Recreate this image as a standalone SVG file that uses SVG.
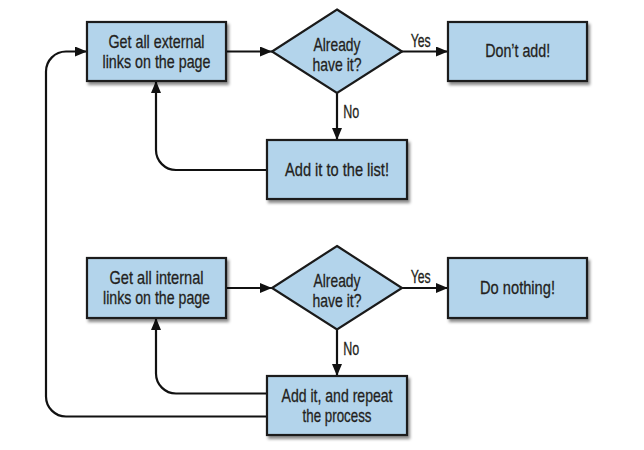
<svg xmlns="http://www.w3.org/2000/svg" width="644" height="450" viewBox="0 0 644 450">
<defs>
<filter id="sh" x="-10%" y="-10%" width="130%" height="140%">
<feDropShadow dx="2" dy="3" stdDeviation="1.8" flood-color="#000" flood-opacity="0.45"/>
</filter>
<marker id="ah" viewBox="0 0 12 10" refX="12" refY="5" markerWidth="12" markerHeight="10" markerUnits="userSpaceOnUse" orient="auto">
<path d="M0,0 L12,5 L0,10 Z" fill="#111"/>
</marker>
</defs>
<style>
.box{fill:#b3d4eb;stroke:#1a1a1a;stroke-width:2.2;filter:url(#sh)}
.dia{fill:#b3d4eb;stroke:#1a1a1a;stroke-width:2.2}
.t{font-family:"Liberation Sans",Arial,sans-serif;font-size:19px;fill:#231f20;stroke:#231f20;stroke-width:0.3;text-anchor:middle}
.l{font-family:"Liberation Sans",Arial,sans-serif;font-size:18px;fill:#231f20;stroke:#231f20;stroke-width:0.3;text-anchor:middle}
.c{fill:none;stroke:#111;stroke-width:2.2;marker-end:url(#ah)}
</style>
<rect width="644" height="450" fill="#fff"/>
<g id="connectors">
<path class="c" d="M226,51.5 H272"/>
<path class="c" d="M402,51.5 H448"/>
<path class="c" d="M337,93 V140"/>
<path class="c" d="M267,170 H176 A20,20 0 0 1 156,150 V81"/>
<path class="c" d="M226,288 H272"/>
<path class="c" d="M402,288 H448"/>
<path class="c" d="M337,329.5 V376"/>
<path class="c" d="M267,393.5 H176 A20,20 0 0 1 156,373.5 V318"/>
<path class="c" d="M267,416.5 H66 A20,20 0 0 1 46,396.5 V71.5 A20,20 0 0 1 66,51.5 H87"/>
<text class="l" x="420.7" y="46.7" textLength="20" lengthAdjust="spacingAndGlyphs">Yes</text>
<text class="l" x="351.3" y="118.3" textLength="16" lengthAdjust="spacingAndGlyphs">No</text>
<text class="l" x="420.7" y="283" textLength="20" lengthAdjust="spacingAndGlyphs">Yes</text>
<text class="l" x="351.3" y="355" textLength="16" lengthAdjust="spacingAndGlyphs">No</text>
</g>
<g id="get-external">
<rect class="box" x="87" y="22" width="139" height="59"/>
<text class="t" x="156.5" y="48.3" textLength="96" lengthAdjust="spacingAndGlyphs">Get all external</text>
<text class="t" x="156.5" y="68.3" textLength="108" lengthAdjust="spacingAndGlyphs">links on the page</text>
</g>
<g id="decision-1">
<polygon class="dia" points="337,9.5 402,51.5 337,93 272,51.5"/>
<text class="t" x="337" y="50.5" textLength="47" lengthAdjust="spacingAndGlyphs">Already</text>
<text class="t" x="337" y="70.5" textLength="49" lengthAdjust="spacingAndGlyphs">have it?</text>
</g>
<g id="dont-add">
<rect class="box" x="448" y="22" width="139" height="59"/>
<text class="t" x="517.7" y="57" textLength="65" lengthAdjust="spacingAndGlyphs">Don’t add!</text>
</g>
<g id="add-to-list">
<rect class="box" x="267" y="140" width="140" height="59"/>
<text class="t" x="337" y="175.5" textLength="104" lengthAdjust="spacingAndGlyphs">Add it to the list!</text>
</g>
<g id="get-internal">
<rect class="box" x="87" y="258" width="139" height="60"/>
<text class="t" x="156.5" y="284.3" textLength="94" lengthAdjust="spacingAndGlyphs">Get all internal</text>
<text class="t" x="156.5" y="304.3" textLength="107" lengthAdjust="spacingAndGlyphs">links on the page</text>
</g>
<g id="decision-2">
<polygon class="dia" points="337,246 402,288 337,329.5 272,288"/>
<text class="t" x="337" y="287" textLength="47" lengthAdjust="spacingAndGlyphs">Already</text>
<text class="t" x="337" y="307" textLength="49" lengthAdjust="spacingAndGlyphs">have it?</text>
</g>
<g id="do-nothing">
<rect class="box" x="448" y="258" width="139" height="60"/>
<text class="t" x="517.5" y="293.5" textLength="75" lengthAdjust="spacingAndGlyphs">Do nothing!</text>
</g>
<g id="add-repeat">
<rect class="box" x="267" y="376" width="140" height="59"/>
<text class="t" x="337" y="402.3" textLength="111" lengthAdjust="spacingAndGlyphs">Add it, and repeat</text>
<text class="t" x="337" y="421.7" textLength="69" lengthAdjust="spacingAndGlyphs">the process</text>
</g>
</svg>
